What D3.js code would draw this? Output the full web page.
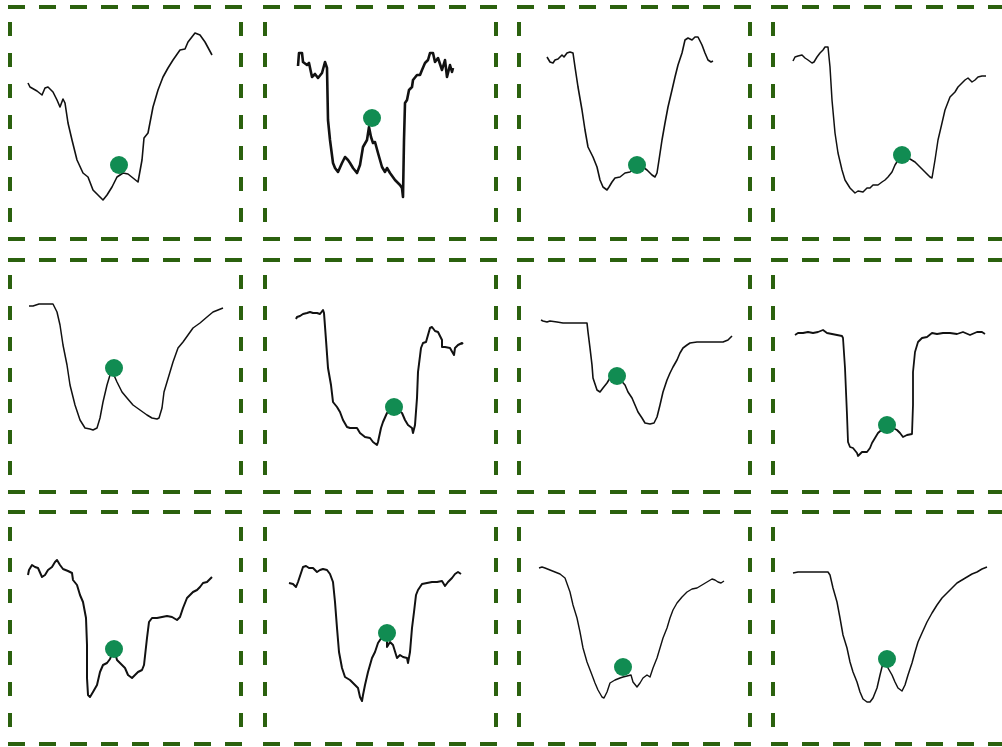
<!DOCTYPE html>
<html>
<head>
<meta charset="utf-8">
<script src="https://cdn.jsdelivr.net/npm/d3@7"></script>
<style>
    body { margin: 0; background: #fff; }
    .trace { fill: none; stroke: #111; stroke-linejoin: round; }
    .frame { stroke: #2b610e; stroke-width: 4; }
    .marker { fill: #118c52; }
</style>
</head>
<body>
<div id="grid"></div>
<script>
// each profile: [sample, depth], depth grows downward
let p1 = [[18,76],[20,80],[27,84],[32,88],[35,81],[38,80],[43,85],[47,93],[50,100],[53,92],[55,96],[58,116],[62,133],[67,153],[73,166],[78,170],[83,183],[88,188],[93,193],[97,188],[102,180],[107,170],[113,166],[118,167],[123,171],[128,175],[132,153],[134,131],[138,126],[143,100],[148,83],[153,70],[158,61],[163,53],[170,43],[175,42],[178,35],[185,26],[190,28],[195,35],[202,48]];
let p2 = [[33,59],[34,46],[37,46],[38,55],[42,58],[44,56],[47,70],[50,67],[53,71],[57,66],[60,55],[62,61],[63,113],[65,133],[68,156],[70,161],[73,165],[77,156],[80,150],[83,153],[85,156],[88,161],[92,166],[95,158],[98,140],[102,133],[104,120],[106,130],[107,133],[108,136],[110,135],[113,146],[117,160],[120,165],[122,161],[125,166],[130,173],[135,178],[137,181],[138,190],[139,133],[140,96],[142,93],[144,83],[147,80],[148,73],[152,68],[155,68],[157,63],[160,56],[163,53],[165,46],[168,46],[170,55],[173,51],[177,63],[180,53],[182,70],[185,58],[187,65],[188,61]];
let p3 = [[28,50],[31,55],[34,56],[36,53],[39,52],[43,48],[45,50],[48,46],[51,45],[54,46],[56,60],[59,80],[63,103],[66,123],[69,140],[74,150],[78,160],[81,173],[84,180],[88,183],[90,180],[93,175],[96,171],[101,170],[106,166],[111,165],[117,160],[121,158],[128,163],[133,168],[136,170],[138,166],[140,153],[143,133],[146,116],[149,100],[153,83],[156,70],[159,58],[163,46],[166,33],[169,31],[173,33],[176,30],[179,30],[183,38],[186,46],[189,53],[192,55],[194,54]];
let p4 = [[20,54],[22,50],[25,49],[29,48],[32,51],[35,53],[39,56],[41,55],[44,50],[47,46],[50,43],[52,40],[55,40],[57,60],[59,93],[62,126],[65,146],[69,163],[72,173],[77,181],[82,186],[85,184],[90,185],[94,181],[97,181],[100,178],[105,178],[109,175],[112,173],[115,170],[119,165],[122,158],[127,150],[132,151],[137,152],[142,155],[147,160],[152,165],[157,170],[159,171],[162,153],[165,133],[169,116],[172,103],[177,90],[182,85],[185,80],[189,76],[192,73],[195,71],[199,75],[202,73],[205,70],[209,69],[213,69]];
let p5 = [[19,46],[23,46],[29,44],[35,44],[43,44],[47,52],[50,65],[53,85],[57,105],[60,125],[65,145],[70,160],[75,168],[80,169],[83,170],[87,168],[90,158],[93,142],[97,125],[100,115],[103,113],[107,122],[112,132],[117,138],[123,145],[130,150],[137,155],[142,158],[147,159],[149,158],[152,148],[154,132],[157,122],[160,112],[163,102],[168,88],[173,82],[178,75],[183,68],[190,63],[197,57],[203,52],[208,50],[213,48]];
let p6 = [[31,59],[32,57],[35,56],[38,54],[42,53],[45,52],[48,53],[52,53],[55,54],[58,50],[59,53],[61,80],[63,108],[66,125],[68,142],[72,147],[75,152],[78,160],[82,167],[85,168],[88,168],[92,168],[95,173],[100,177],[105,178],[108,182],[112,185],[113,182],[116,168],[118,162],[122,153],[129,147],[137,153],[140,160],[143,165],[147,168],[148,173],[150,165],[152,138],[153,112],[156,88],[158,83],[161,82],[163,75],[165,68],[167,67],[170,71],[173,72],[177,80],[177,87],[180,87],[185,88],[189,95],[190,88],[193,85],[197,83],[198,84]];
let p7 = [[22,60],[24,61],[28,62],[31,61],[38,62],[44,63],[51,63],[61,63],[68,63],[69,72],[71,88],[73,105],[74,118],[78,130],[81,132],[84,128],[88,123],[91,118],[98,116],[106,125],[109,132],[113,138],[116,145],[119,152],[123,158],[126,163],[131,164],[135,163],[138,157],[141,145],[144,132],[148,120],[151,113],[154,107],[158,100],[161,93],[164,88],[168,85],[171,83],[178,82],[184,82],[191,82],[198,82],[204,82],[209,80],[213,76]];
let p8 = [[22,75],[25,73],[30,73],[35,72],[40,73],[45,72],[50,70],[54,73],[59,74],[64,75],[69,76],[70,78],[72,108],[74,155],[75,182],[77,187],[80,188],[84,193],[85,196],[89,192],[94,192],[97,188],[99,183],[102,178],[105,173],[114,165],[124,170],[127,173],[130,177],[134,175],[139,174],[140,145],[140,112],[142,92],[145,82],[149,78],[154,77],[159,73],[164,74],[170,73],[177,73],[184,74],[190,72],[197,75],[204,72],[209,72],[212,74]];
let p9 = [[18,63],[19,58],[22,53],[25,55],[28,56],[32,65],[35,63],[38,58],[42,55],[45,50],[47,48],[50,53],[53,57],[58,59],[62,61],[63,68],[67,73],[70,83],[73,90],[76,106],[77,133],[77,166],[78,183],[80,185],[83,180],[87,173],[90,160],[93,153],[97,151],[100,147],[104,137],[107,148],[112,153],[115,156],[118,163],[122,166],[125,163],[128,160],[132,158],[134,153],[137,126],[139,110],[142,106],[147,106],[152,105],[157,104],[162,105],[167,108],[170,105],[173,96],[177,86],[180,83],[183,80],[187,78],[190,75],[193,71],[197,70],[199,68],[202,65]];
let p10 = [[24,71],[28,72],[31,75],[33,70],[36,61],[38,55],[41,54],[44,56],[48,56],[52,60],[55,58],[58,57],[62,58],[65,62],[68,70],[70,90],[72,116],[74,140],[77,156],[80,165],[85,168],[90,173],[93,176],[95,185],[97,189],[98,183],[100,173],[103,160],[107,146],[110,140],[113,131],[117,125],[122,121],[122,135],[125,130],[128,133],[132,146],[135,143],[138,145],[142,146],[143,151],[145,140],[147,116],[149,100],[151,83],[153,78],[157,72],[162,71],[167,70],[172,70],[177,69],[180,74],[183,70],[187,66],[190,62],[193,60],[196,62]];
let p11 = [[20,56],[23,55],[26,56],[31,58],[36,60],[41,62],[46,66],[51,80],[54,93],[58,106],[61,120],[64,136],[68,150],[73,163],[76,171],[79,178],[83,185],[85,186],[88,180],[91,171],[96,168],[101,166],[104,165],[112,163],[114,170],[118,175],[121,171],[124,166],[128,163],[131,165],[134,156],[138,146],[141,136],[144,126],[148,116],[151,106],[154,98],[158,91],[163,85],[168,80],[173,77],[178,76],[183,73],[188,70],[193,67],[196,68],[199,70],[202,71],[205,69]];
let p12 = [[20,61],[25,60],[30,60],[44,60],[55,60],[57,63],[60,76],[64,90],[67,106],[70,123],[74,136],[77,150],[80,160],[84,170],[87,180],[90,187],[94,190],[97,190],[100,186],[104,176],[107,163],[110,151],[114,147],[115,156],[119,163],[122,170],[125,176],[129,179],[132,173],[135,163],[139,151],[142,140],[145,130],[149,121],[154,110],[159,101],[164,93],[169,86],[174,81],[179,76],[184,71],[189,68],[194,65],[199,62],[204,60],[209,57],[214,55]];

let profiles = [p1, p2, p3, p4, p5, p6, p7, p8, p9, p10, p11, p12];

// marked point on each profile
let markers = [[109,158],[107,111],[118,158],[129,148],[104,108],[129,147],[98,116],[114,165],[104,137],[122,121],[104,155],[114,147]];

(function() {
    let w = 1002;
    let h = 747;

    let svg = d3.select("#grid")
        .append("svg")
        .attr("width", w)
        .attr("height", h);

    svg.append("rect")
        .attr("width", w)
        .attr("height", h)
        .attr("fill", "#fff");

    let colLeft = [10, 265, 519, 773];
    let rowTop = [7, 260, 512];
    let pw = 231;
    let ph = 232;
    // heavier pens on the noisier recordings
    let penWidth = [1.6, 2.6, 1.6, 1.5, 1.5, 2, 1.6, 1.8, 2, 2, 1.4, 1.5];

    profiles.forEach((prof, i) => {
        let left = colLeft[i % 4];
        let top = rowTop[Math.floor(i / 4)];

        let x = d3.scaleLinear().domain([0, pw]).range([left, left + pw]);
        let y = d3.scaleLinear().domain([0, ph]).range([top, top + ph]);

        let g = svg.append("g");

        // dashed frame
        g.append("line")
            .attr("class", "frame")
            .attr("x1", left - 2).attr("x2", left + pw + 3)
            .attr("y1", top).attr("y2", top)
            .attr("stroke-dasharray", "17,14");
        g.append("line")
            .attr("class", "frame")
            .attr("x1", left - 2).attr("x2", left + pw + 3)
            .attr("y1", top + ph).attr("y2", top + ph)
            .attr("stroke-dasharray", "17,14");
        g.append("line")
            .attr("class", "frame")
            .attr("x1", left).attr("x2", left)
            .attr("y1", top + 15).attr("y2", top + ph - 8)
            .attr("stroke-dasharray", "14,17");
        g.append("line")
            .attr("class", "frame")
            .attr("x1", left + pw).attr("x2", left + pw)
            .attr("y1", top + 15).attr("y2", top + ph - 8)
            .attr("stroke-dasharray", "14,17");

        let line = d3.line()
            .x((d) => x(d[0]))
            .y((d) => y(d[1]));

        g.append("path")
            .datum(prof)
            .attr("class", "trace")
            .attr("stroke-width", penWidth[i])
            .attr("d", line);

        g.append("circle")
            .attr("class", "marker")
            .attr("cx", x(markers[i][0]))
            .attr("cy", y(markers[i][1]))
            .attr("r", 9);
    });
})();
</script>
</body>
</html>
